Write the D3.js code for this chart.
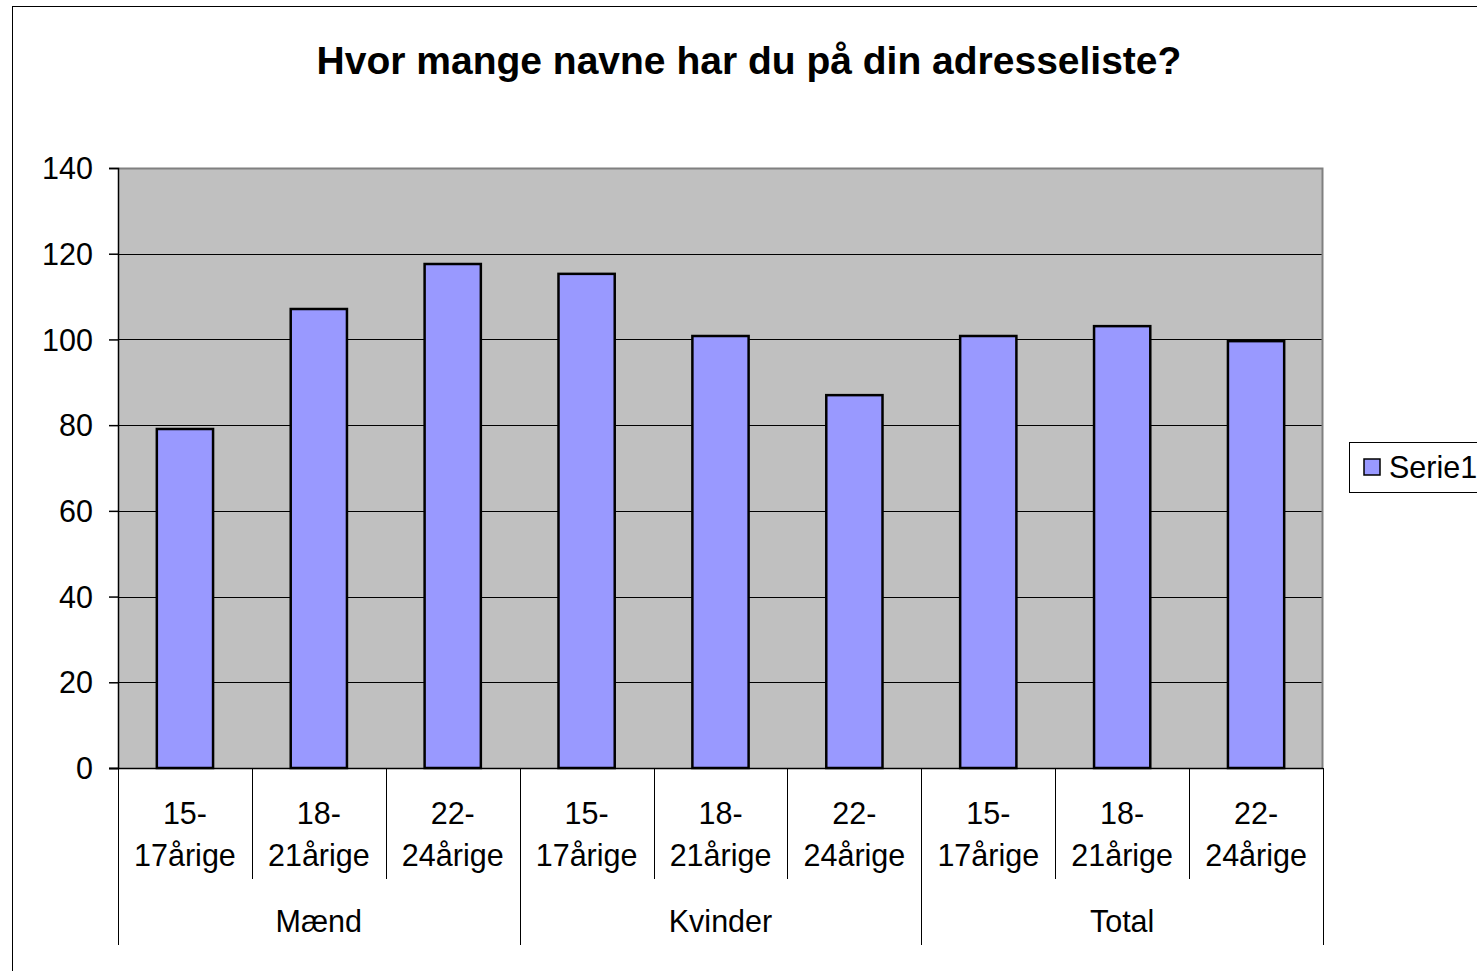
<!DOCTYPE html>
<html><head><meta charset="utf-8">
<script src="https://cdn.jsdelivr.net/npm/d3@7"></script>
<style>body{margin:0;background:#fff;}svg{display:block;font-family:"Liberation Sans",Arial,sans-serif;}</style>
</head><body>
<svg id="c" width="1477" height="971"></svg>
<script>
const title = "Hvor mange navne har du på din adresseliste?";
const groups = ["Mænd", "Kvinder", "Total"];
const ageLine1 = ["15-", "18-", "22-"];
const ageLine2 = ["17årige", "21årige", "24årige"];
const values = [79.1, 107.1, 117.6, 115.3, 100.8, 87.0, 100.8, 103.1, 99.6];
const yTicks = [0, 20, 40, 60, 80, 100, 120, 140];
const seriesName = "Serie1";

const FS = 30.5;
const svg = d3.select("#c");
const L = 118, R = 1323, T = 168, B = 768;

// outer chart frame
svg.append("rect").attr("x", 12.5).attr("y", 6.5).attr("width", 1500).attr("height", 1000)
  .attr("fill", "#fff").attr("stroke", "#000").attr("stroke-width", 1);

svg.append("text").attr("x", 749).attr("y", 74).attr("text-anchor", "middle")
  .attr("font-weight", "bold").attr("font-size", 39).text(title);

const cats = [];
groups.forEach((g, gi) => ageLine1.forEach((a, ai) => cats.push({g, gi, ai, l1: a, l2: ageLine2[ai]})));
cats.forEach((c, i) => c.v = values[i]);

const x = d3.scaleBand().domain(d3.range(cats.length)).range([L, R]).paddingInner(0).paddingOuter(0);
const y = d3.scaleLinear().domain([0, 140]).range([B, T]);

svg.append("rect").attr("x", L).attr("y", T).attr("width", R - L).attr("height", B - T).attr("fill", "#C0C0C0");

// gridlines
svg.append("g").selectAll("line").data(yTicks.filter(t => t > 0 && t < 140)).join("line")
  .attr("x1", L).attr("x2", R).attr("y1", d => Math.round(y(d)) + 0.5).attr("y2", d => Math.round(y(d)) + 0.5)
  .attr("stroke", "#000").attr("stroke-width", 1);
// plot border top/right grey
svg.append("path").attr("d", `M${L},${T + 0.5}H${R - 0.5}V${B}`).attr("fill", "none").attr("stroke", "#808080").attr("stroke-width", 2);

// bars
const bw = x.bandwidth() * 0.42;
svg.append("g").selectAll("rect").data(cats).join("rect")
  .attr("x", (d, i) => x(i) + (x.bandwidth() - bw) / 2).attr("width", bw)
  .attr("y", d => y(d.v)).attr("height", d => y(0) - y(d.v))
  .attr("fill", "#9999FF").attr("stroke", "#000").attr("stroke-width", 2.5);

// y axis
const yAxis = d3.axisLeft(y).tickValues(yTicks).tickSize(9).tickPadding(16);
const ya = svg.append("g").attr("transform", `translate(${L},0)`).call(yAxis);
ya.select(".domain").attr("stroke", "#000").attr("stroke-width", 1.5);
ya.selectAll(".tick line").attr("stroke", "#000").attr("stroke-width", 1.5);
ya.selectAll("text").attr("font-size", FS).attr("font-family", "Liberation Sans, Arial, sans-serif").attr("fill", "#000").attr("dy", "0.35em");

// x axis baseline
svg.append("line").attr("x1", L - 9).attr("x2", R).attr("y1", B + 0.5).attr("y2", B + 0.5).attr("stroke", "#000").attr("stroke-width", 1.5);

// category dividers
const lab = svg.append("g");
d3.range(cats.length + 1).forEach(i => {
  const xx = i < cats.length ? x(i) : R;
  const isGroup = i % 3 === 0;
  lab.append("line").attr("x1", Math.round(xx) + 0.5).attr("x2", Math.round(xx) + 0.5)
    .attr("y1", B).attr("y2", isGroup ? 945 : 879).attr("stroke", "#000").attr("stroke-width", 1);
});
lab.selectAll("text.l1").data(cats).join("text").attr("class", "l1")
  .attr("x", (d, i) => x(i) + x.bandwidth() / 2).attr("y", 824).attr("text-anchor", "middle")
  .attr("font-size", FS).text(d => d.l1);
lab.selectAll("text.l2").data(cats).join("text").attr("class", "l2")
  .attr("x", (d, i) => x(i) + x.bandwidth() / 2).attr("y", 866).attr("text-anchor", "middle")
  .attr("font-size", FS).text(d => d.l2);
lab.selectAll("text.g").data(groups).join("text").attr("class", "g")
  .attr("x", (d, gi) => (x(gi * 3) + x(gi * 3 + 2) + x.bandwidth()) / 2).attr("y", 932).attr("text-anchor", "middle")
  .attr("font-size", FS).text(d => d);

// legend
const lg = svg.append("g");
lg.append("rect").attr("x", 1349.5).attr("y", 442.5).attr("width", 140).attr("height", 50)
  .attr("fill", "#fff").attr("stroke", "#000").attr("stroke-width", 1);
lg.append("rect").attr("x", 1364).attr("y", 459).attr("width", 16).attr("height", 16)
  .attr("fill", "#9999FF").attr("stroke", "#000").attr("stroke-width", 1.5);
lg.append("text").attr("x", 1389).attr("y", 478).attr("font-size", FS).text(seriesName);
</script>
</body></html>
